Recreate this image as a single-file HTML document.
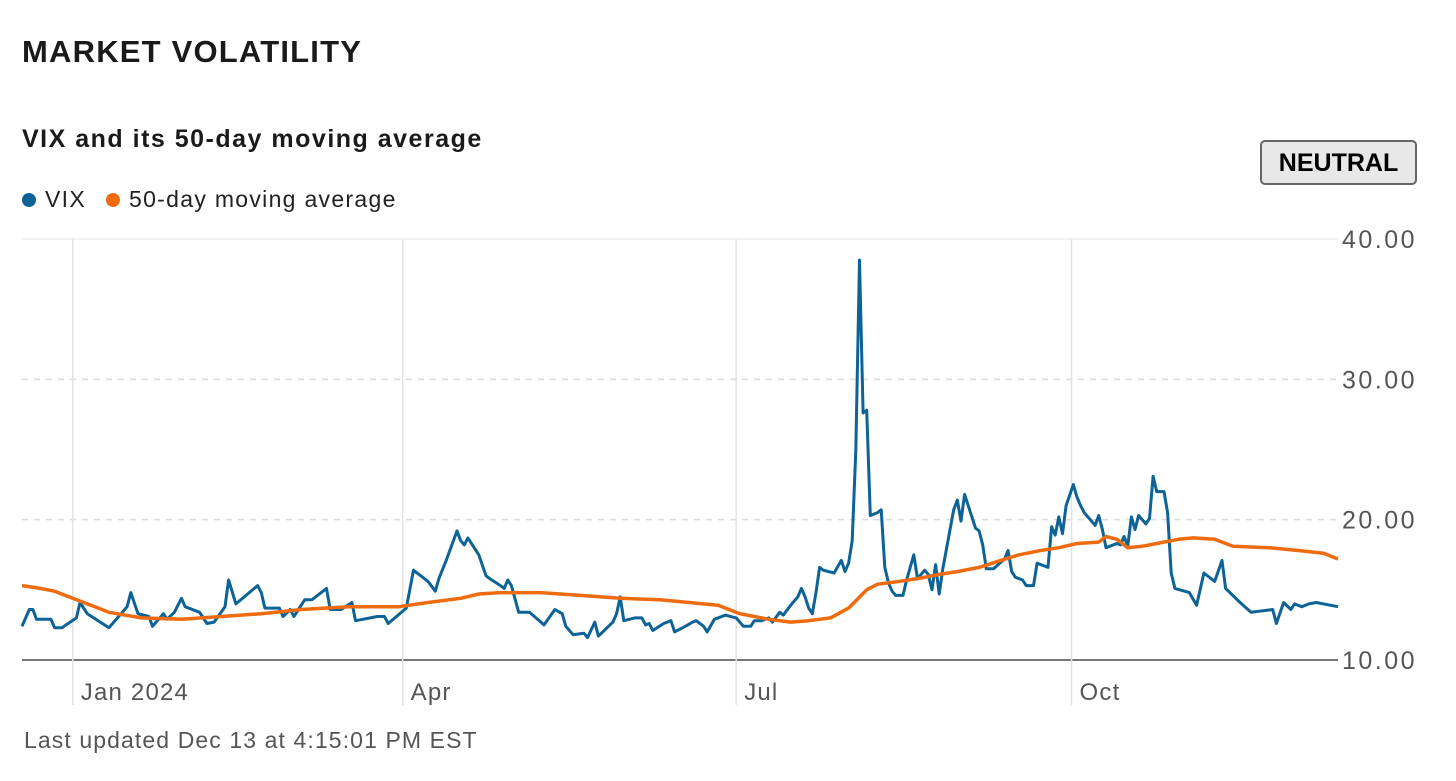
<!DOCTYPE html>
<html><head><meta charset="utf-8">
<style>
body{margin:0;background:#fff;width:1456px;height:781px;overflow:hidden;font-family:"Liberation Sans",sans-serif;}
.t{position:absolute;white-space:nowrap;}
</style></head>
<body>
<div class="t" style="left:22px;top:34px;font-size:31px;font-weight:bold;color:#1a1a1a;letter-spacing:1.2px">MARKET VOLATILITY</div>
<div class="t" style="left:22px;top:125px;font-size:25px;font-weight:bold;color:#1a1a1a;letter-spacing:1.5px">VIX and its 50-day moving average</div>
<div class="t" style="left:22px;top:186px;font-size:23px;color:#222;letter-spacing:1.3px"><span style="display:inline-block;width:14px;height:14px;border-radius:50%;background:#0d6396;margin-right:9px"></span>VIX</div>
<div class="t" style="left:106px;top:186px;font-size:23px;color:#222;letter-spacing:1.3px"><span style="display:inline-block;width:14px;height:14px;border-radius:50%;background:#ee6c0f;margin-right:9px"></span>50-day moving average</div>
<div class="t" style="left:1260px;top:140px;width:157px;height:45px;box-sizing:border-box;border:2px solid #666;border-radius:5px;background:#e8e8e8;font-size:25px;font-weight:bold;color:#000;text-align:center;line-height:42px">NEUTRAL</div>
<svg id="chart" width="1456" height="781" style="position:absolute;left:0;top:0"></svg>
<div class="t" style="left:24px;top:727px;font-size:23px;color:#555;letter-spacing:1.1px">Last updated Dec 13 at 4:15:01 PM EST</div>
<script>
const yTicks=[10,20,30,40];
const yTickLabels=["10.00","20.00","30.00","40.00"];
const xTickDays=[14,105,197,289.5];
const xTickLabels=["Jan 2024","Apr","Jul","Oct"];
const vixDays=[0,2,3,4,8,9,11,15,16,18,21,24,29,30,32,35,36,39,40,42,44,45,49,51,53,56,57,59,65,66,67,71,72,74,75,78,80,84,85,88,91,92,94,98,100,101,106,108,112,114,115,117,120,121,122,123,126,128,129,132,133,134,135,137,140,144,147,149,150,152,155,156,158,159,163,164,165,166,169,171,172,173,174,177,179,180,183,185,186,188,189,191,194,197,199,201,202,204,206,207,209,210,212,214,215,216,217,218,219,220,221,224,226,227,228,229,230,231,232,233,234,236,237,238,239,240,241,243,244,246,247,249,250,251,252,253,254,257,258,259,260,263,264,265,266,268,271,272,273,274,276,277,279,280,283,284,285,286,287,288,290,291,292,293,296,297,298,299,302,303,304,305,306,307,308,310,311,312,313,315,316,317,318,322,324,326,329,331,332,336,339,345,346,348,350,351,353,355,357,363];
const vixValues=[12.4,13.6,13.6,12.9,12.9,12.3,12.3,13.0,14.1,13.3,12.8,12.3,13.8,14.8,13.3,13.1,12.4,13.3,12.9,13.4,14.4,13.8,13.4,12.6,12.7,13.8,15.7,14.0,15.3,14.8,13.7,13.7,13.1,13.6,13.1,14.3,14.3,15.1,13.6,13.6,14.1,12.8,12.9,13.1,13.1,12.6,13.7,16.4,15.6,14.9,15.8,17.1,19.2,18.5,18.2,18.7,17.5,16.0,15.8,15.3,15.1,15.7,15.3,13.4,13.4,12.5,13.6,13.3,12.4,11.8,11.9,11.6,12.7,11.7,12.7,13.3,14.5,12.8,13.0,13.0,12.5,12.6,12.1,12.6,12.8,12.0,12.4,12.7,12.8,12.4,12.0,12.9,13.2,13.0,12.4,12.4,12.8,12.8,13.0,12.7,13.4,13.2,13.9,14.5,15.1,14.5,13.7,13.3,14.8,16.6,16.4,16.2,17.1,16.3,16.9,18.5,24.9,38.5,27.6,27.8,20.3,20.5,20.7,16.6,15.5,14.9,14.6,14.6,15.7,17.5,15.8,16.4,16.1,15.0,16.8,14.7,16.5,20.7,21.4,19.9,21.8,19.4,19.2,18.2,16.5,16.5,17.2,17.8,16.3,15.9,15.7,15.3,15.3,16.9,16.6,19.5,18.9,20.2,19.0,21.0,22.5,21.6,21.0,20.5,19.6,20.3,19.3,18.0,18.3,18.2,18.8,18.1,20.2,19.3,20.3,19.7,20.1,23.1,22.0,22.0,20.5,16.2,15.1,14.8,13.9,16.2,15.6,17.1,15.1,14.1,13.4,13.6,12.6,14.1,13.6,14.0,13.8,14.0,14.1,13.8];
const maDays=[0,5,9,13,19,24,33,44,55,66,77,90,104,112,121,126,132,143,154,165,176,184,192,198,206,212,217,223,228,233,236,242,247,253,258,264,270,275,281,286,291,297,299,302,305,309,313,319,323,329,334,344,352,359,363];
const maValues=[15.3,15.1,14.9,14.5,13.9,13.4,13.0,12.9,13.1,13.3,13.6,13.8,13.8,14.1,14.4,14.7,14.8,14.8,14.6,14.4,14.3,14.1,13.9,13.3,12.9,12.7,12.8,13.0,13.7,15.0,15.4,15.6,15.8,16.1,16.3,16.6,17.1,17.5,17.8,18.0,18.3,18.4,18.8,18.6,18.0,18.1,18.3,18.6,18.7,18.6,18.1,18.0,17.8,17.6,17.2];

const svg=document.getElementById('chart');
const NS='http://www.w3.org/2000/svg';
const X0=22,X1=1338,D0=0,D1=363,YB=660,YT=239,V0=10,V1=40;
function xs(d){return X0+(d-D0)/(D1-D0)*(X1-X0);}
function ys(v){return YB-(v-V0)/(V1-V0)*(YB-YT);}
function mk(tag,attrs){const e=document.createElementNS(NS,tag);for(const k in attrs)e.setAttribute(k,attrs[k]);svg.appendChild(e);return e;}
yTicks.forEach((v,i)=>{
  let l;
  if(v===V0){l=mk('line',{x1:X0,x2:X1,y1:ys(v),y2:ys(v),stroke:'#777','stroke-width':2});}
  else if(v===V1){l=mk('line',{x1:X0,x2:X1,y1:ys(v),y2:ys(v),stroke:'#e4e4e4','stroke-width':1});}
  else{l=mk('line',{x1:X0,x2:X1,y1:ys(v),y2:ys(v),stroke:'#dcdcdc','stroke-width':1.5,'stroke-dasharray':'6,6'});}
  
  
  const t=mk('text',{x:1417,y:ys(v)+9,'text-anchor':'end','font-size':25,'letter-spacing':'2.5px',fill:'#555','font-family':'Liberation Sans, sans-serif'});
  t.textContent=yTickLabels[i];
  
  
});
xTickDays.forEach((d,i)=>{
  const l=mk('line',{x1:xs(d),x2:xs(d),y1:YT,y2:705,stroke:'#e2e2e2','stroke-width':1.5});
  
  
  const t=mk('text',{x:xs(d)+8,y:700,'font-size':24,'letter-spacing':'1.2px',fill:'#555','font-family':'Liberation Sans, sans-serif'});
  t.textContent=xTickLabels[i];
  
  
});
function path(days,vals){return days.map((d,i)=>(i?'L':'M')+xs(d).toFixed(1)+','+ys(vals[i]).toFixed(1)).join('');}
const vl=mk('path',{d:path(vixDays,vixValues),fill:'none',stroke:'#0d6396','stroke-width':3,'stroke-linejoin':'round'});


const ml=mk('path',{d:path(maDays,maValues),fill:'none',stroke:'#ee6c0f','stroke-width':3.5,'stroke-linejoin':'round'});


</script>
</body></html>
